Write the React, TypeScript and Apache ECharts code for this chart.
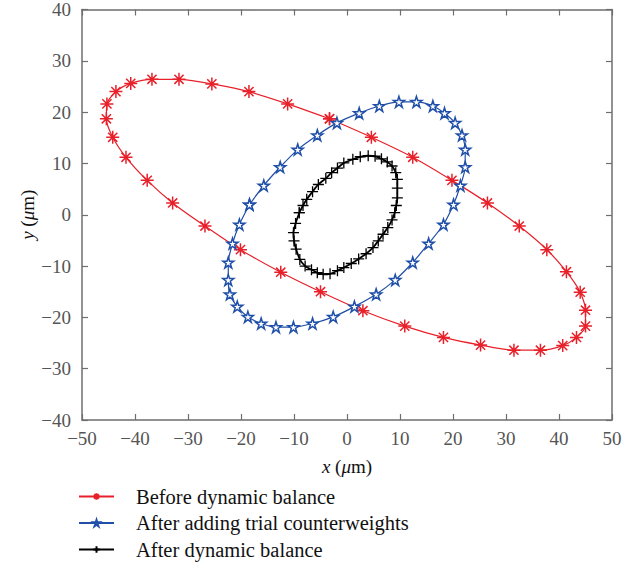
import React, { useEffect, useRef } from 'react';
import * as echarts from 'echarts';

const seriesNames = [
  'Before dynamic balance',
  'After adding trial counterweights',
  'After dynamic balance',
];

const beforeBalance: [number, number][] = [
  [-3.3, 18.7], [-11.2, 21.6], [-18.5, 24.0], [-25.5, 25.5], [-31.7, 26.4], [-36.8, 26.4],
  [-40.8, 25.6], [-43.6, 24.0], [-45.3, 21.6], [-45.4, 18.7], [-44.2, 15.1], [-41.7, 11.2],
  [-37.7, 6.7], [-32.9, 2.3], [-26.8, -2.2], [-20.1, -6.8], [-12.5, -11.2], [-5.0, -15.0],
  [3.0, -18.7], [10.9, -21.7], [18.2, -23.9], [25.2, -25.4], [31.5, -26.4], [36.5, -26.4],
  [40.7, -25.5], [43.3, -23.9], [45.0, -21.7], [45.0, -18.6], [44.0, -15.1], [41.4, -11.1],
  [37.7, -6.8], [32.5, -2.2], [26.5, 2.3], [19.8, 6.7], [12.4, 11.2], [4.6, 15.1], [-3.3, 18.7],
];

const afterTrial: [number, number][] = [
  [-18.4, 2.0], [-15.7, 5.7], [-12.6, 9.3], [-9.3, 12.7], [-5.6, 15.5], [-1.9, 17.9],
  [2.3, 19.8], [6.1, 21.2], [9.8, 22.0], [13.1, 22.0], [16.2, 21.2], [18.4, 19.8],
  [20.4, 17.9], [21.7, 15.5], [22.3, 12.7], [22.3, 9.3], [21.4, 5.7], [20.1, 2.0],
  [18.2, -1.9], [15.4, -5.6], [12.4, -9.3], [9.1, -12.7], [5.5, -15.5], [1.4, -17.9],
  [-2.6, -19.9], [-6.5, -21.2], [-10.1, -21.9], [-13.4, -21.9], [-16.2, -21.2], [-18.7, -19.9],
  [-20.7, -17.9], [-22.1, -15.5], [-22.4, -12.7], [-22.4, -9.3], [-21.6, -5.6], [-20.3, -1.9],
  [-18.4, 2.0],
];

const afterBalance: [number, number][] = [
  [-9.0, 0.4], [-8.3, 1.8], [-7.6, 3.0], [-6.5, 4.5], [-5.4, 5.9], [-4.0, 7.1], [-2.9, 8.2],
  [-1.8, 9.1], [-0.6, 10.1], [1.1, 10.8], [2.5, 11.3], [4.0, 11.5], [5.3, 11.4], [6.5, 10.9],
  [7.6, 10.3], [8.5, 9.5], [9.2, 8.2], [9.5, 6.9], [9.5, 5.2], [9.5, 3.3], [9.3, 1.8],
  [9.0, 0.4], [8.5, -1.0], [7.7, -2.5], [6.8, -3.8], [5.9, -5.1], [4.9, -6.4], [3.6, -7.6],
  [2.2, -8.6], [0.8, -9.5], [-0.6, -10.3], [-1.8, -10.9], [-3.2, -11.5], [-4.5, -11.6],
  [-5.6, -11.3], [-6.7, -10.7], [-7.9, -10.0], [-8.9, -8.7], [-9.6, -6.7], [-10.0, -5.1],
  [-10.1, -3.5], [-9.7, -1.7], [-9.0, 0.4],
];

const xRange = [-50, 50];
const yRange = [-40, 40];
const tickStep = 10;

const asteriskSymbol =
  'path://M6 0L6 12M0 6L12 6M1.76 1.76L10.24 10.24M10.24 1.76L1.76 10.24';
const starSymbol =
  'path://M10 0L12.245 6.91L19.51 6.91L13.633 11.18L15.88 18.09L10 13.82L4.12 18.09L6.367 11.18L0.49 6.91L7.755 6.91Z';
const plusSymbol = 'path://M5 0L5 10M0 5L10 5';

const FONT = 'Liberation Serif';
const AXIS_COLOR = '#6e6e6e';
const LABEL_COLOR = '#555555';

const fmt = (v: number) => String(v).replace('-', '\u2212');

export default function App() {
  const ref = useRef<HTMLDivElement>(null);
  useEffect(() => {
    const chart = echarts.init(ref.current!, null, { renderer: 'svg' });
    const axisLine = { onZero: false, lineStyle: { color: AXIS_COLOR, width: 1.5 } };
    const axisTick = { inside: true, length: 6, lineStyle: { color: AXIS_COLOR, width: 1.2 } };
    const nameRich = {
      i: { fontFamily: FONT, fontStyle: 'italic', fontSize: 19, color: '#111' },
      n: { fontFamily: FONT, fontSize: 19, color: '#111' },
    };
    chart.setOption({
      animation: false,
      backgroundColor: '#ffffff',
      grid: { left: 82, right: 32, top: 8, bottom: 144, containLabel: false },
      xAxis: [
        {
          type: 'value', min: xRange[0], max: xRange[1], interval: tickStep, position: 'bottom',
          axisLine, axisTick, splitLine: { show: false },
          axisLabel: { color: LABEL_COLOR, fontFamily: FONT, fontSize: 19, margin: 9, formatter: fmt },
          name: '{i|x}{n| (}{i|\u03bc}{n|m)}', nameLocation: 'middle', nameGap: 37,
          nameMoveOverlap: false,
          nameTextStyle: { rich: nameRich },
        },
        {
          type: 'value', min: xRange[0], max: xRange[1], interval: tickStep, position: 'top',
          axisLine, axisTick, splitLine: { show: false }, axisLabel: { show: false },
        },
      ],
      yAxis: [
        {
          type: 'value', min: yRange[0], max: yRange[1], interval: tickStep, position: 'left',
          axisLine, axisTick, splitLine: { show: false },
          axisLabel: { color: LABEL_COLOR, fontFamily: FONT, fontSize: 19, margin: 11, formatter: fmt },
          name: '{i|y}{n| (}{i|\u03bc}{n|m)}', nameLocation: 'middle', nameGap: 45, nameRotate: 90,
          nameMoveOverlap: false,
          nameTextStyle: { rich: nameRich },
        },
        {
          type: 'value', min: yRange[0], max: yRange[1], interval: tickStep, position: 'right',
          axisLine, axisTick, splitLine: { show: false }, axisLabel: { show: false },
        },
      ],
      legend: {
        orient: 'vertical', left: 78, top: 486, padding: 0, itemWidth: 35, itemHeight: 8, itemGap: 5.5,
        height: 78,
        data: seriesNames,
        textStyle: { fontFamily: FONT, fontSize: 20.5, color: '#111', lineHeight: 20, padding: [0, 0, 0, 17] },
      },
      series: [
        {
          name: seriesNames[0], type: 'line', data: beforeBalance, smooth: 0.25,
          symbol: asteriskSymbol, symbolSize: 13,
          lineStyle: { color: '#e8202a', width: 1.2 },
          itemStyle: { color: '#e8202a', borderColor: '#e8202a', borderWidth: 1.5 },
        },
        {
          name: seriesNames[1], type: 'line', data: afterTrial, smooth: 0.25,
          symbol: starSymbol, symbolSize: 11,
          lineStyle: { color: '#1f4fa8', width: 1.2 },
          itemStyle: { color: '#ffffff', borderColor: '#1f4fa8', borderWidth: 1.5 },
        },
        {
          name: seriesNames[2], type: 'line', data: afterBalance, smooth: 0.25,
          symbol: plusSymbol, symbolSize: 11,
          lineStyle: { color: '#000000', width: 1.8 },
          itemStyle: { color: '#000000', borderColor: '#000000', borderWidth: 1.3 },
        },
      ],
    });
    return () => chart.dispose();
  }, []);
  return (
    <div
      ref={ref}
      style={{ position: 'absolute', left: 0, top: 0, width: 644, height: 564, background: '#fff' }}
    />
  );
}
